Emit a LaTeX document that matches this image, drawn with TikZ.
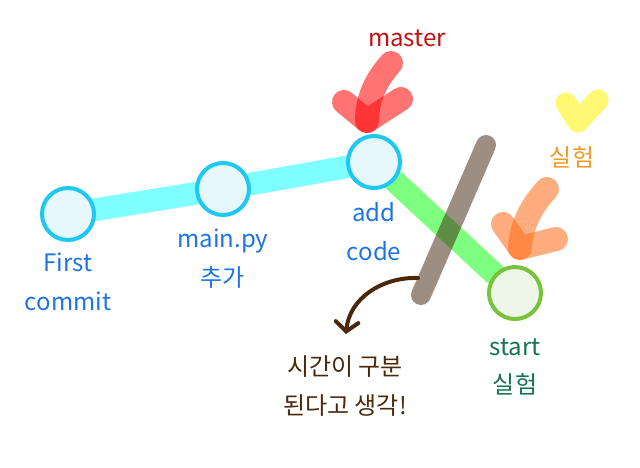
\documentclass[tikz,border=0pt]{standalone}
\usepackage{fontspec}
\setmainfont{Noto Sans CJK KR}
\usetikzlibrary{arrows.meta, positioning, backgrounds}

\definecolor{commitline}{RGB}{30,200,240}
\definecolor{commitfill}{RGB}{230,248,252}
\definecolor{commitedge}{RGB}{0,255,255}
\definecolor{lblblue}{RGB}{30,115,230}
\definecolor{startline}{RGB}{120,195,60}
\definecolor{startfill}{RGB}{238,246,232}
\definecolor{lblteal}{RGB}{20,115,85}
\definecolor{lblred}{RGB}{195,15,15}
\definecolor{lblorange}{RGB}{240,155,40}
\definecolor{pointerorange}{RGB}{255,105,20}
\definecolor{notebrown}{RGB}{75,40,10}
\definecolor{slashbrown}{RGB}{60,30,10}

\begin{document}
\begin{tikzpicture}[x=0.75pt, y=-0.75pt,
    % commit circles
    commit/.style={circle, draw=commitline, line width=3pt, fill=commitfill,
        minimum size=39pt, inner sep=0pt},
    newcommit/.style={commit, draw=startline, fill=startfill},
    % thick connectors between commits
    cyanedge/.style={line width=17pt, line cap=round, draw=commitedge, draw opacity=0.5},
    greenedge/.style={line width=17pt, line cap=round, draw=green, draw opacity=0.5},
    % hand drawn strokes
    slash/.style={line width=15pt, line cap=round, draw=slashbrown, draw opacity=0.5},
    fatstroke/.style={line width=18pt, line cap=round, line join=round, draw opacity=0.55},
    notearrow/.style={line width=3pt, line cap=round, draw=notebrown,
        -{Straight Barb[length=7pt, width=17pt, line cap=round]}},
    % Label style
    lbl/.style={font=\fontsize{18}{29}\selectfont, align=center, inner sep=0pt}
]
    \useasboundingbox (0,0) rectangle (640,468);

    % commits
    \node[commit] (first) at (68,214) {};
    \node[commit] (mainpy) at (223,189) {};
    \node[commit] (addcode) at (374,162) {};
    \node[newcommit] (start) at (515,293) {};

    % commit labels
    \node[lbl, text=lblblue, below=8pt of first] (firstlbl) {First\\commit};
    \node[lbl, text=lblblue, below=9pt of mainpy] (mainpylbl) {main.py\\추가};
    \node[lbl, text=lblblue, below=9pt of addcode] (addcodelbl) {add\\code};
    \node[lbl, text=lblteal, below=13pt of start] (startlbl) {start\\실험};

    % branch names
    \node[lbl, text=lblred] (master) at (407,38) {master};
    \node[lbl, text=lblorange] (silheom) at (572,157) {실험};

    % connectors
    \begin{scope}[on background layer]
        \draw[cyanedge] (first) -- (mainpy);
        \draw[cyanedge] (mainpy) -- (addcode);
        \draw[greenedge] (addcode) -- (start);
    \end{scope}

    % slash through the branch
    \coordinate (slashtop) at (486,145);
    \coordinate (slashbot) at (421,295);
    \draw[slash] (slashtop) -- (slashbot);

    % master pointer
    \coordinate (mastertail) at (391,63);
    \coordinate (mastertip) at (367,121);
    \draw[fatstroke, draw=red] (mastertail) .. controls (376,80) and (367,98) .. (mastertip);
    \draw[fatstroke, draw=red] (344,102) -- (mastertip) -- (401,99);

    % branch pointer
    \coordinate (branchtail) at (547,189);
    \coordinate (branchtip) at (520,248);
    \draw[fatstroke, draw=pointerorange] (branchtail) .. controls (533,204) and (521,224) .. (branchtip);
    \draw[fatstroke, draw=pointerorange] (503,224) -- (branchtip) -- (556,239);

    % heart
    \draw[fatstroke, draw=yellow, line width=16pt] (566,103) -- (578,122) -- (598,100);

    % note
    \coordinate (notefrom) at (418,278);
    \node[lbl, text=notebrown] (note) at (345,386) {시간이 구분\\된다고 생각!};
    \draw[notearrow] (notefrom) to[out=178, in=85] (346,334);
\end{tikzpicture}
\end{document}
